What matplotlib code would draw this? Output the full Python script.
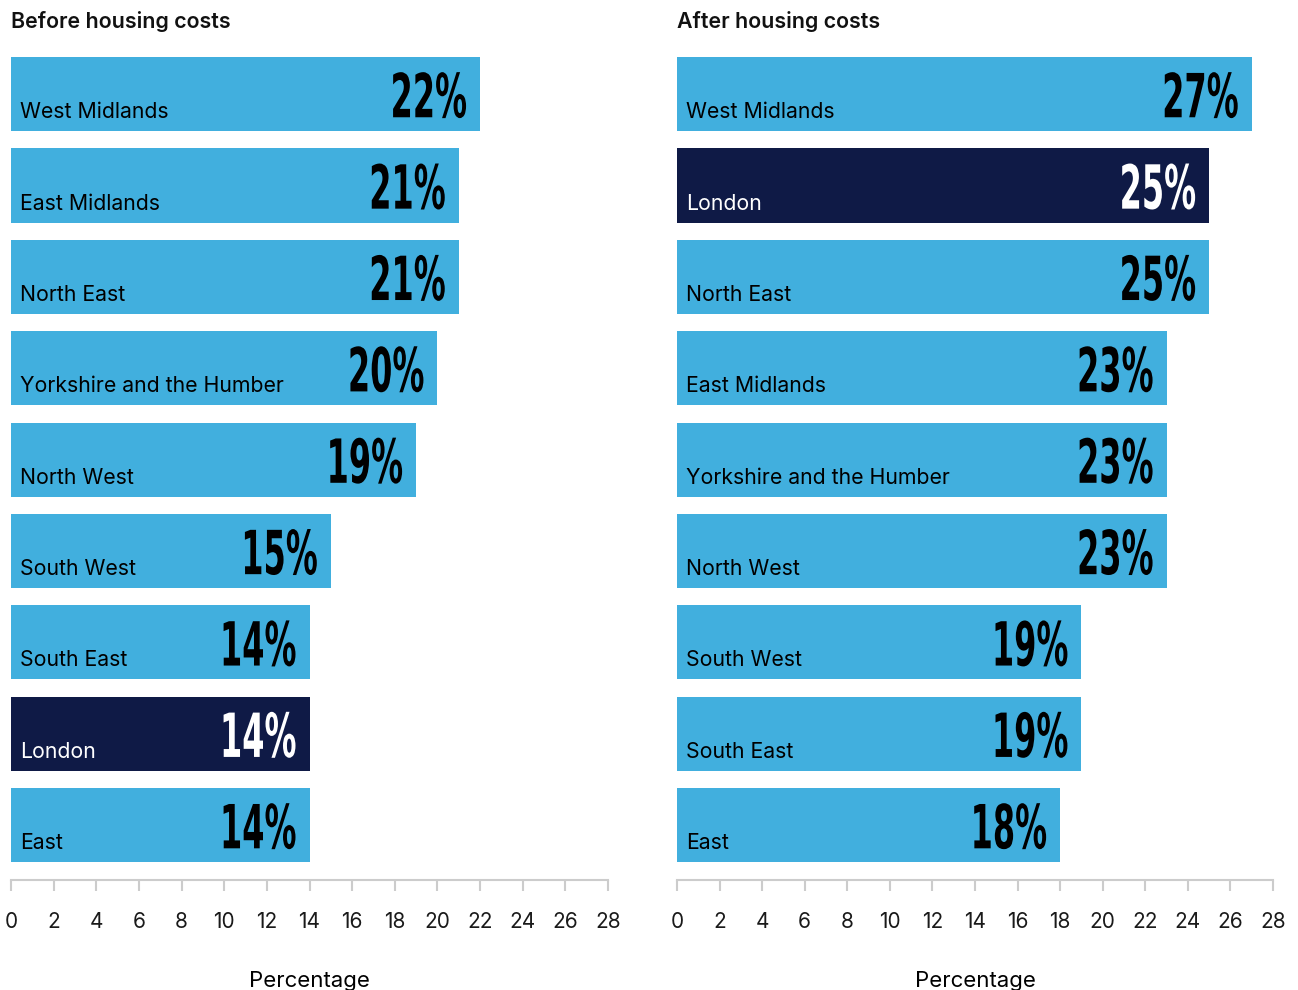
import matplotlib
matplotlib.use("Agg")
import matplotlib.pyplot as plt
from matplotlib.font_manager import FontProperties
from matplotlib.textpath import TextPath
from matplotlib.patches import PathPatch
from matplotlib.transforms import Affine2D

# data
before_regions = ["West Midlands", "East Midlands", "North East", "Yorkshire and the Humber",
                  "North West", "South West", "South East", "London", "East"]
before_values = [22, 21, 21, 20, 19, 15, 14, 14, 14]

after_regions = ["West Midlands", "London", "North East", "East Midlands",
                 "Yorkshire and the Humber", "North West", "South West", "South East", "East"]
after_values = [27, 25, 25, 23, 23, 23, 19, 19, 18]

titles = ["Before housing costs", "After housing costs"]
xticks = list(range(0, 29, 2))

# style
light_blue = "#41afde"
navy = "#0f1a46"
axis_grey = "#cccccc"
font = "Inter"
plt.rcParams["font.family"] = [font, "DejaVu Sans"]

fig = plt.figure(figsize=(12.98, 9.9), dpi=100)
W, H = 1298, 990

# axes placed in pixels: left, right, top, bottom
panels = [(11, 608), (677, 1273)]
ax_top, ax_bottom = 53, 880
bar_h = 0.81

# condensed big-number labels: TextPath squeezed horizontally
num_fp = FontProperties(family=["Liberation Sans Narrow", "DejaVu Sans"], weight="bold")
ref = TextPath((0, 0), "22%", size=100, prop=num_fp).get_extents()
sx = 73.0 / ref.width
sy = 46.0 / ref.height


def big_label(ax, val, y, color):
    tp = TextPath((0, 0), f"{val}%", size=100, prop=num_fp)
    ext = tp.get_extents()
    px, py = ax.transData.transform((val, y + bar_h / 2))
    tr = Affine2D().translate(-ext.x1, -ext.y0).scale(sx, sy).translate(px - 14, py + 13)
    fig.add_artist(PathPatch(tp, transform=tr, facecolor=color, edgecolor="none"))


for (x0, x1), title, regions, values in zip(panels, titles,
                                            [before_regions, after_regions],
                                            [before_values, after_values]):
    ax = fig.add_axes([x0 / W, (H - ax_bottom) / H, (x1 - x0) / W, (ax_bottom - ax_top) / H])
    ys = list(range(len(regions)))
    colors = [navy if r == "London" else light_blue for r in regions]
    ax.barh(ys, values, height=bar_h, color=colors)
    ax.set_xlim(0, 28)
    ax.set_ylim(8.6, -0.45)

    for s in ["top", "right", "left"]:
        ax.spines[s].set_visible(False)
    ax.spines["bottom"].set_color(axis_grey)
    ax.spines["bottom"].set_linewidth(1.5)
    ax.set_yticks([])
    ax.set_xticks(xticks)
    ax.tick_params(axis="x", length=8, width=1.5, color=axis_grey, pad=15,
                   labelsize=15, labelcolor="#1a1a1a")
    ax.set_xlabel("Percentage", fontsize=16, labelpad=28)

    for y, r, v, c in zip(ys, regions, values, colors):
        txt_col = "white" if c == navy else "black"
        ax.annotate(r, xy=(0, y + bar_h / 2), xytext=(9, 13), textcoords="offset pixels",
                    ha="left", va="baseline", fontsize=15.3, color=txt_col)
        big_label(ax, v, y, txt_col)

    fig.text(x0 / W, 1 - 22 / H, title, ha="left", va="center", fontsize=15.4,
             fontweight="semibold", color="#111111")

fig.savefig("out.png", dpi=100)
